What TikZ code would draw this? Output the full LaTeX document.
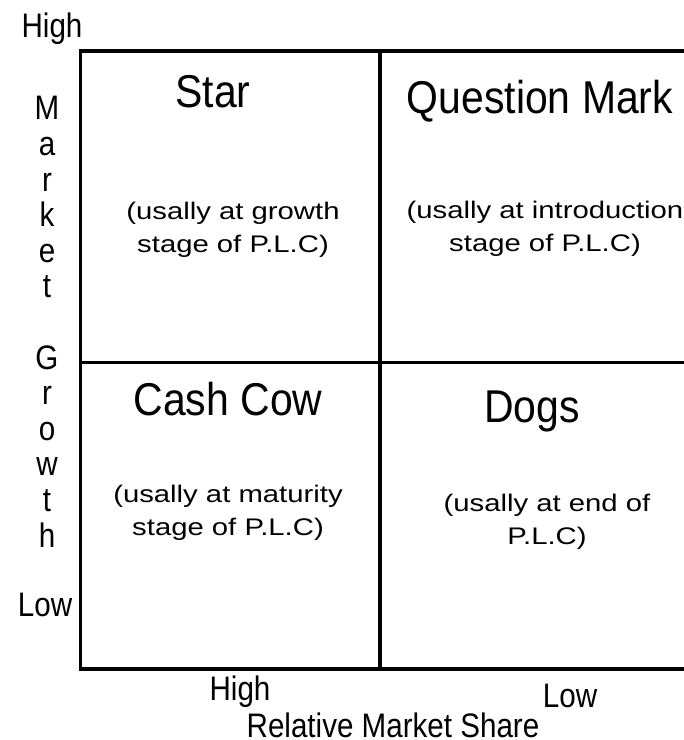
\documentclass[tikz,border=0pt]{standalone}
\usepackage{fontspec}
\setmainfont{Liberation Sans}
\newfontfamily\titlefont{Liberation Sans}[FakeStretch=0.89]
\newfontfamily\notefont{Liberation Sans}[FakeStretch=1.22]
\newfontfamily\axisfont{Liberation Sans}[FakeStretch=0.87]
\usepackage{tikz}

\tikzset{
    gridline/.style={line width=2.5pt, black},
    quadtitle/.style={anchor=base, inner sep=0pt, font=\titlefont\fontsize{34.5}{40}\selectfont},
    quadnote/.style={anchor=base, inner sep=0pt, align=center, font=\notefont\fontsize{18}{24.75}\selectfont},
    axislabel/.style={anchor=base, inner sep=0pt, font=\axisfont\fontsize{25.5}{26.7}\selectfont}
}

\begin{document}
\begin{tikzpicture}[x=0.75pt, y=-0.75pt]
            \useasboundingbox (0,0) rectangle (684,740);
            \clip (0,0) rectangle (684,740);

            % the four quadrants
            \coordinate (tl) at (80.5,51);
            \coordinate (tr) at (700,51);
            \coordinate (bl) at (80.5,669);
            \coordinate (br) at (700,669);
            \coordinate (mt) at (380,51);
            \coordinate (mb) at (380,669);
            \coordinate (ml) at (80.5,362.5);
            \coordinate (mr) at (700,362.5);
            \draw [gridline] (tr) -- (tl) -- (bl) -- (br);
            \draw [gridline] (mt) -- (mb);
            \draw [gridline] (ml) -- (mr);

            % notes sit on the baseline of their last line
            \node[quadtitle] (star) at (213,107) {Star};
            \node[quadnote] (starnote) at (233,252) {(usally at growth\\stage of P.L.C)};

            \node[quadtitle] (qmark) at (540,113) {Question Mark};
            \node[quadnote] (qmarknote) at (545,251) {(usally at introduction\\stage of P.L.C)};

            \node[quadtitle] (cashcow) at (228,415) {Cash Cow};
            \node[quadnote] (cashcownote) at (228,535) {(usally at maturity\\stage of P.L.C)};

            \node[quadtitle] (dogs) at (532,422) {Dogs};
            \node[quadnote] (dogsnote) at (547,544) {(usally at end of\\P.L.C)};

            % axes
            \node[axislabel] (ytop) at (52,37) {High};
            \node[axislabel, align=center] (ytitle) at (47,547)
                {M\\a\\r\\k\\e\\t\\[26.7pt]G\\r\\o\\w\\t\\h};
            \node[axislabel] (ybottom) at (45,616) {Low};
            \node[axislabel] (xleft) at (240,700) {High};
            \node[axislabel] (xright) at (570,707) {Low};
            \node[axislabel] (xtitle) at (393,737) {Relative Market Share};
\end{tikzpicture}
\end{document}
